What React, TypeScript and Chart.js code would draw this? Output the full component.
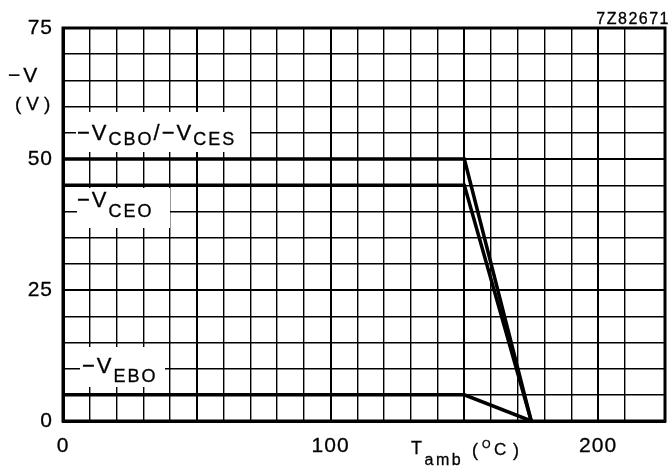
import React, { useEffect, useRef } from 'react';
import { Chart, registerables } from 'chart.js';
Chart.register(...registerables);

// Data (T_amb in °C, -V in volts)
const tempCBO = [0, 150, 175];
const voltCBO = [50, 50, 0];
const tempCEO = [0, 150, 175];
const voltCEO = [45, 45, 0];
const tempEBO = [0, 150, 175];
const voltEBO = [5, 5, 0];

const xLabeledTicks = [0, 100, 200];
const yLabeledTicks = [0, 25, 50, 75];
const X_MIN = 0;
const X_MAX = 225;
const Y_MIN = 0;
const Y_MAX = 75;
const X_STEP = 10;
const Y_STEP = 5;

const FONT = '"Liberation Sans", Arial, sans-serif';

type Part = { text: string; size: number; dy?: number };

function drawRich(ctx: CanvasRenderingContext2D, x: number, baseline: number, parts: Part[], spacing: number) {
  let cx = x;
  ctx.textAlign = 'left';
  ctx.textBaseline = 'alphabetic';
  ctx.strokeStyle = '#000';
  ctx.lineWidth = 0.3;
  for (const p of parts) {
    ctx.font = `${p.size}px ${FONT}`;
    (ctx as any).letterSpacing = `${spacing}px`;
    ctx.fillText(p.text, cx, baseline + (p.dy || 0));
    ctx.strokeText(p.text, cx, baseline + (p.dy || 0));
    cx += ctx.measureText(p.text).width;
  }
}

const toXY = (xs: number[], ys: number[]) => xs.map((x, i) => ({ x, y: ys[i] }));

const annotations = {
  id: 'annotations',
  beforeDraw(chart: any) {
    (chart.ctx as any).letterSpacing = '1px';
  },
  beforeDatasetsDraw(chart: any) {
    const ctx: CanvasRenderingContext2D = chart.ctx;
    ctx.save();
    ctx.fillStyle = '#fff';
    // label boxes
    ctx.fillRect(76, 112, 174, 40);
    ctx.fillRect(77, 188, 93, 40);
    ctx.fillRect(80, 347, 85, 40);
    ctx.fillStyle = '#000';
    drawRich(ctx, 77, 140, [
      { text: '\u2212V', size: 22 },
      { text: 'CBO', size: 18, dy: 5 },
      { text: '/\u2212V', size: 22 },
      { text: 'CES', size: 18, dy: 5 },
    ], 2);
    drawRich(ctx, 77, 207, [
      { text: '\u2212V', size: 22 },
      { text: 'CEO', size: 18, dy: 10 },
    ], 2);
    drawRich(ctx, 82, 373, [
      { text: '\u2212V', size: 22 },
      { text: 'EBO', size: 18, dy: 9 },
    ], 2);
    ctx.restore();
  },
  afterDraw(chart: any) {
    const ctx: CanvasRenderingContext2D = chart.ctx;
    const a = chart.chartArea;
    ctx.save();
    ctx.strokeStyle = '#000';
    ctx.lineWidth = 3;
    ctx.strokeRect(a.left, a.top, a.right - a.left, a.bottom - a.top);
    ctx.fillStyle = '#000';
    // y axis title
    drawRich(ctx, 8, 82, [{ text: '\u2212V', size: 21 }], 3);
    drawRich(ctx, 15, 110, [{ text: '(V)', size: 19 }], 5);
    // x axis title
    drawRich(ctx, 411, 454, [
      { text: 'T', size: 18 },
      { text: 'amb', size: 16, dy: 11 },
    ], 2.5);
    drawRich(ctx, 472, 456, [{ text: '(', size: 18 }], 2);
    drawRich(ctx, 482, 448, [{ text: 'O', size: 11 }], 1);
    drawRich(ctx, 494, 455, [{ text: 'C', size: 17 }], 2);
    drawRich(ctx, 513, 456, [{ text: ')', size: 18 }], 2);
    // figure code
    ctx.font = `16px ${FONT}`;
    (ctx as any).letterSpacing = '1.5px';
    ctx.textAlign = 'right';
    ctx.lineWidth = 0.3;
    ctx.fillText('7Z82671', 670, 24);
    ctx.strokeText('7Z82671', 670, 24);
    ctx.restore();
  },
};

export default function App() {
  const ref = useRef<HTMLCanvasElement>(null);
  useEffect(() => {
    if (!ref.current) return;
    const lineStyle = { borderColor: '#000', borderWidth: 3.5, pointRadius: 0, fill: false, tension: 0 };
    const chart = new Chart(ref.current, {
      type: 'line',
      data: {
        datasets: [
          { label: '-VCBO/-VCES', data: toXY(tempCBO, voltCBO), ...lineStyle },
          { label: '-VCEO', data: toXY(tempCEO, voltCEO), ...lineStyle },
          { label: '-VEBO', data: toXY(tempEBO, voltEBO), ...lineStyle },
        ],
      },
      options: {
        responsive: false,
        animation: false,
        layout: { padding: { top: 28, right: 6, left: 0, bottom: 0 } },
        plugins: { legend: { display: false }, tooltip: { enabled: false } },
        scales: {
          x: {
            type: 'linear',
            min: X_MIN,
            max: X_MAX,
            afterFit: (s: any) => { s.height = 45; s.paddingLeft = 0; s.paddingRight = 0; },
            ticks: {
              stepSize: X_STEP,
              autoSkip: false,
              maxRotation: 0,
              minRotation: 0,
              padding: 13,
              color: '#000',
              textStrokeColor: '#000',
              textStrokeWidth: 0.3,
              font: { family: FONT, size: 21 },
              callback: (v: any) => (xLabeledTicks.includes(Number(v)) ? String(v) : ''),
            },
            grid: {
              color: '#000',
              drawTicks: false,
              lineWidth: (c: any) => (c.tick && c.tick.value % 50 === 0 ? 2 : 1.4),
            },
            border: { display: true, color: '#000', width: 3 },
          },
          y: {
            type: 'linear',
            min: Y_MIN,
            max: Y_MAX,
            afterFit: (s: any) => { s.width = 63; s.paddingTop = 0; s.paddingBottom = 0; },
            ticks: {
              stepSize: Y_STEP,
              autoSkip: false,
              padding: 10,
              color: '#000',
              textStrokeColor: '#000',
              textStrokeWidth: 0.3,
              font: { family: FONT, size: 21 },
              callback: (v: any) => (yLabeledTicks.includes(Number(v)) ? String(v) : ''),
            },
            grid: {
              color: '#000',
              drawTicks: false,
              lineWidth: (c: any) => (c.tick && c.tick.value % 25 === 0 ? 2 : 1.4),
            },
            border: { display: true, color: '#000', width: 3 },
          },
        },
      },
      plugins: [annotations],
    });
    return () => chart.destroy();
  }, []);
  return (
    <div style={{ position: 'fixed', left: 0, top: 0, width: 671, height: 466, background: '#fff' }}>
      <canvas ref={ref} width={671} height={466} style={{ width: 671, height: 466, display: 'block' }} />
    </div>
  );
}
